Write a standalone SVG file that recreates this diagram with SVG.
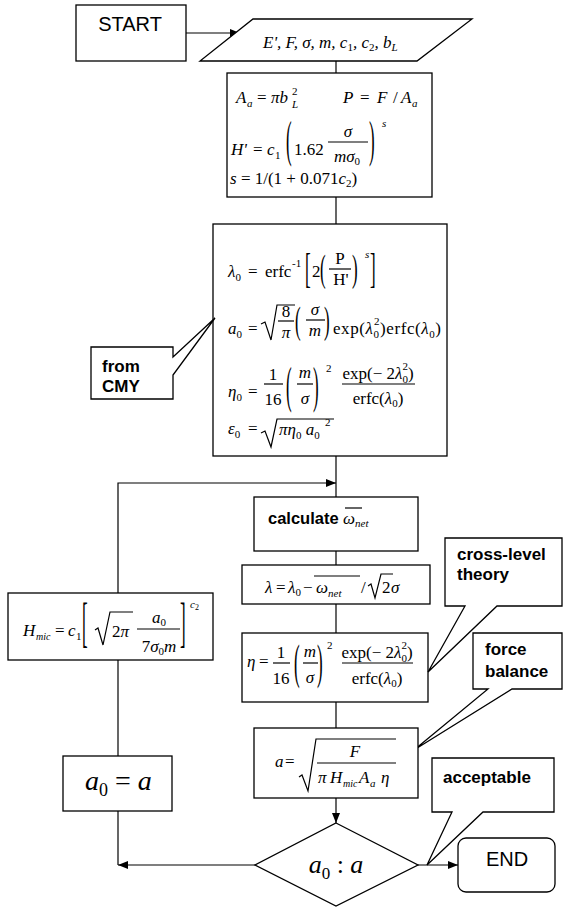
<svg xmlns="http://www.w3.org/2000/svg" width="564" height="907" viewBox="0 0 564 907">
<style>
.b{fill:#fff;stroke:#000;stroke-width:1.3}
.ln{stroke:#000;stroke-width:1.2;fill:none}
.c path,.c line{stroke:#000;stroke-width:1.2;fill:none}
.m{font-family:"Liberation Serif","Times New Roman",serif;font-style:italic;font-size:17px}
.r{font-family:"Liberation Serif","Times New Roman",serif;font-style:normal;font-size:17px}
.s{font-size:11px}
.lbl{font-family:"Liberation Sans",Arial,sans-serif;font-weight:bold;font-size:17px}
.big{font-family:"Liberation Sans",Arial,sans-serif;font-size:20px}
</style>
<defs>
<marker id="ah" markerWidth="10" markerHeight="8" refX="10" refY="4" orient="auto" markerUnits="userSpaceOnUse">
<path d="M0,0 L10,4 L0,8 Z" fill="#000"/>
</marker>
</defs>

<g class="c" id="connectors">
<line x1="186" y1="33" x2="240" y2="33" marker-end="url(#ah)"/>
<line x1="336" y1="61" x2="336" y2="73"/>
<line x1="336" y1="197" x2="336" y2="224"/>
<line x1="336" y1="456" x2="336" y2="497"/>
<line x1="336" y1="551" x2="336" y2="565"/>
<line x1="336" y1="604" x2="336" y2="633"/>
<line x1="336" y1="702" x2="336" y2="728"/>
<line x1="336" y1="798" x2="336" y2="823" marker-end="url(#ah)"/>
<line x1="418" y1="865" x2="458" y2="865" marker-end="url(#ah)"/>
<line x1="255" y1="865" x2="118" y2="865" marker-end="url(#ah)"/>
<line x1="118" y1="865" x2="118" y2="811"/>
<line x1="118" y1="756" x2="118" y2="660"/>
<path d="M118,593 V483 H336" marker-end="url(#ah)"/>
</g>

<g id="start">
<rect class="b" x="76" y="5" width="110" height="56"/>
<text class="big" x="130" y="31" text-anchor="middle">START</text>
</g>

<g id="input">
<polygon class="b" points="253,19 472,19 417,61 200,61"/>
<text class="m" x="263" y="48">E', F, σ, m, c<tspan class="r s" dy="3">1</tspan><tspan dy="-3">, c</tspan><tspan class="r s" dy="3">2</tspan><tspan dy="-3">, b</tspan><tspan class="s" dy="3">L</tspan></text>
</g>

<g id="box1">
<rect class="b" x="227" y="73" width="205" height="124"/>
<text class="m" x="236" y="103">A</text>
<text class="m s" x="247" y="107">a</text>
<text class="r" x="257" y="103">=</text>
<text class="m" x="271" y="103">πb</text>
<text class="r s" x="292" y="95">2</text>
<text class="m s" x="292" y="108">L</text>
<text class="m" x="343" y="103">P</text>
<text class="r" x="360" y="103">=</text>
<text class="m" x="377" y="103">F</text>
<text class="r" x="393" y="103">/</text>
<text class="m" x="401" y="103">A</text>
<text class="m s" x="412" y="107">a</text>
<text class="m" x="231" y="155">H'</text>
<text class="r" x="253" y="155">=</text>
<text class="m" x="267" y="155">c</text>
<text class="r s" x="275" y="159">1</text>
<text class="r" transform="translate(286,156) scale(1,2.94)">(</text>
<text class="r" x="294" y="155">1.62</text>
<line class="ln" x1="328" y1="142" x2="368" y2="142"/>
<text class="m" x="348" y="137" text-anchor="middle">σ</text>
<text class="m" x="347" y="162" text-anchor="middle">mσ<tspan class="r s" dy="3">0</tspan></text>
<text class="r" transform="translate(369,156) scale(1,2.94)">)</text>
<text class="m s" x="382" y="127">s</text>
<text class="m" x="230" y="184">s <tspan class="r">= 1/(1 + 0.071</tspan>c<tspan class="r s" dy="3">2</tspan><tspan class="r" dy="-3">)</tspan></text>
</g>

<g id="box2">
<rect class="b" x="213" y="224" width="234" height="232"/>
<text class="m" x="228" y="277">λ<tspan class="r s" dy="4">0</tspan></text>
<text class="r" x="248" y="277">=</text>
<text class="r" x="265" y="277">erfc</text>
<text class="r s" x="292" y="267">-1</text>
<text class="r" transform="translate(305,282) scale(1,2.48)">[</text>
<text class="r" x="312" y="277">2</text>
<text class="r" transform="translate(320,281) scale(1,2.22)">(</text>
<text class="r" x="340" y="264" text-anchor="middle">P</text>
<line class="ln" x1="329" y1="269" x2="351" y2="269"/>
<text class="r" x="341" y="285" text-anchor="middle">H'</text>
<text class="r" transform="translate(352,281) scale(1,2.22)">)</text>
<text class="m s" x="365" y="258">s</text>
<text class="r" transform="translate(370,282) scale(1,2.48)">]</text>

<text class="m" x="228" y="334">a<tspan class="r s" dy="4">0</tspan></text>
<text class="r" x="248" y="334">=</text>
<path class="ln" d="M261,324 L265,322 L271,340 L277,305 H295"/>
<text class="r" x="286" y="317" text-anchor="middle">8</text>
<line class="ln" x1="278" y1="321" x2="294" y2="321"/>
<text class="m" x="286" y="338" text-anchor="middle">π</text>
<text class="r" transform="translate(295,333) scale(1,2.29)">(</text>
<text class="m" x="315" y="315" text-anchor="middle">σ</text>
<line class="ln" x1="306" y1="320" x2="325" y2="320"/>
<text class="m" x="315" y="336" text-anchor="middle">m</text>
<text class="r" transform="translate(324,333) scale(1,2.29)">)</text>
<text class="r" x="333" y="334" textLength="108" lengthAdjust="spacing">exp(<tspan class="m">λ</tspan><tspan class="s" dy="4">0</tspan><tspan class="s" dx="-5.5" dy="-13">2</tspan><tspan dy="9">)erfc(</tspan><tspan class="m">λ</tspan><tspan class="s" dy="4">0</tspan><tspan dy="-4">)</tspan></text>

<text class="m" x="228" y="397">η<tspan class="r s" dy="4">0</tspan></text>
<text class="r" x="248" y="397">=</text>
<text class="r" x="273" y="380" text-anchor="middle">1</text>
<line class="ln" x1="264" y1="384" x2="283" y2="384"/>
<text class="r" x="273" y="405" text-anchor="middle">16</text>
<text class="r" transform="translate(286,402) scale(1,3.0)">(</text>
<text class="m" x="305" y="378" text-anchor="middle">m</text>
<line class="ln" x1="297" y1="384" x2="313" y2="384"/>
<text class="m" x="305" y="404" text-anchor="middle">σ</text>
<text class="r" transform="translate(313,402) scale(1,3.0)">)</text>
<text class="r s" x="326" y="372">2</text>
<text class="r" x="378" y="379" text-anchor="middle">exp(− 2<tspan class="m">λ</tspan><tspan class="s" dy="4">0</tspan><tspan class="s" dx="-5.5" dy="-13">2</tspan><tspan dy="9">)</tspan></text>
<line class="ln" x1="342" y1="384" x2="415" y2="384"/>
<text class="r" x="378" y="404" text-anchor="middle">erfc(<tspan class="m">λ</tspan><tspan class="s" dy="3">0</tspan><tspan dy="-3">)</tspan></text>

<text class="m" x="228" y="434">ε<tspan class="r s" dy="4">0</tspan></text>
<text class="r" x="248" y="434">=</text>
<path class="ln" d="M261,433 L265,431 L271,447 L277,419 H334"/>
<text class="m" x="279" y="435">πη<tspan class="r s" dy="4">0</tspan><tspan dy="-4"> a</tspan><tspan class="r s" dy="4">0</tspan></text>
<text class="r s" x="325" y="426">2</text>
</g>

<g id="cmy">
<path class="b" d="M91,347 H173 V357 L215,318 L173,375 V399 H91 Z"/>
<text class="lbl" x="102" y="372">from</text>
<text class="lbl" x="102" y="392">CMY</text>
</g>

<g id="calc">
<rect class="b" x="254" y="497" width="164" height="54"/>
<text class="lbl" x="268" y="524" style="font-size:16.5px">calculate</text>
<line class="ln" x1="345" y1="508" x2="362" y2="508"/>
<text class="m" x="343" y="524">ω</text>
<text class="m s" x="355" y="527">net</text>
</g>

<g id="lambda">
<rect class="b" x="242" y="565" width="188" height="39"/>
<text class="m" x="265" y="593">λ</text>
<text class="r" x="276" y="593">=</text>
<text class="m" x="288" y="593">λ<tspan class="r s" dy="3">0</tspan></text>
<text class="r" x="303" y="593">−</text>
<line class="ln" x1="314" y1="576" x2="360" y2="576"/>
<text class="m" x="316" y="593">ω</text>
<text class="m s" x="328" y="597">net</text>
<text class="r" x="361" y="593">/</text>
<path class="ln" d="M368,586 L371,584 L375,598 L381,574 H393"/>
<text class="r" x="382" y="593">2</text>
<text class="m" x="391" y="593">σ</text>
</g>

<g id="eta">
<rect class="b" x="242" y="633" width="186" height="69"/>
<text class="m" x="247" y="667">η</text>
<text class="r" x="259" y="667">=</text>
<text class="r" x="281" y="658" text-anchor="middle">1</text>
<line class="ln" x1="273" y1="663" x2="290" y2="663"/>
<text class="r" x="281" y="684" text-anchor="middle">16</text>
<text class="r" transform="translate(294,678) scale(1,2.81)">(</text>
<text class="m" x="310" y="657" text-anchor="middle">m</text>
<line class="ln" x1="303" y1="663" x2="318" y2="663"/>
<text class="m" x="310" y="683" text-anchor="middle">σ</text>
<text class="r" transform="translate(317,678) scale(1,2.81)">)</text>
<text class="r s" x="327" y="649">2</text>
<text class="r" x="377" y="658" text-anchor="middle">exp(− 2<tspan class="m">λ</tspan><tspan class="s" dy="4">0</tspan><tspan class="s" dx="-5.5" dy="-13">2</tspan><tspan dy="9">)</tspan></text>
<line class="ln" x1="342" y1="663" x2="413" y2="663"/>
<text class="r" x="377" y="684" text-anchor="middle">erfc(<tspan class="m">λ</tspan><tspan class="s" dy="3">0</tspan><tspan dy="-3">)</tspan></text>
</g>

<g id="crosslevel">
<path class="b" d="M445,538 H562 V606 H497 L428,672 L465,606 H445 Z"/>
<text class="lbl" x="457" y="560">cross-level</text>
<text class="lbl" x="457" y="580">theory</text>
</g>

<g id="forcebal">
<path class="b" d="M473,633 H562 V689 H512 L414,750 L488,689 H473 Z"/>
<text class="lbl" x="485" y="655">force</text>
<text class="lbl" x="485" y="677">balance</text>
</g>

<g id="abox">
<rect class="b" x="254" y="728" width="164" height="70"/>
<text class="m" x="275" y="767">a</text>
<text class="r" x="285" y="767">=</text>
<path class="ln" d="M299,777 L302,775 L308,791 L316,739 H396"/>
<text class="m" x="355" y="757" text-anchor="middle">F</text>
<line class="ln" x1="317" y1="763" x2="396" y2="763"/>
<text class="m" x="318" y="783">π</text>
<text class="m" x="330" y="783">H</text>
<text class="m" x="343" y="787" style="font-size:10px">mic</text>
<text class="m" x="359" y="783">A</text>
<text class="m s" x="370" y="787">a</text>
<text class="m" x="381" y="783">η</text>
</g>

<g id="hmic">
<rect class="b" x="8" y="593" width="205" height="67"/>
<text class="m" x="23" y="636">H</text>
<text class="m" x="36" y="640" style="font-size:10px">mic</text>
<text class="r" x="55" y="636">=</text>
<text class="m" x="68" y="636">c</text>
<text class="r s" x="76" y="640">1</text>
<text class="r" transform="translate(82,641) scale(1,3.27)">[</text>
<path class="ln" d="M95,630 L98,628 L103,645 L110,612 H133"/>
<text class="r" x="112" y="637">2<tspan class="m">π</tspan></text>
<text class="m" x="159" y="623" text-anchor="middle">a<tspan class="r s" dy="3">0</tspan></text>
<line class="ln" x1="137" y1="629" x2="180" y2="629"/>
<text class="r" x="159" y="652" text-anchor="middle">7<tspan class="m">σ</tspan><tspan class="s" dy="3">0</tspan><tspan class="m" dy="-3">m</tspan></text>
<text class="r" transform="translate(180,641) scale(1,3.27)">]</text>
<text class="m s" x="190" y="608">c<tspan class="r" style="font-size:8px" dy="2">2</tspan></text>
</g>

<g id="a0box">
<rect class="b" x="63" y="756" width="109" height="55"/>
<text class="m" x="85" y="790" style="font-size:28px">a<tspan class="r" style="font-size:18px" dy="6">0</tspan><tspan class="r" style="font-size:28px" dy="-6"> = </tspan>a</text>
</g>

<g id="decision">
<polygon class="b" points="336,823 418,865 336,906 255,865"/>
<text class="m" x="336" y="873" text-anchor="middle" style="font-size:26px">a<tspan class="r" style="font-size:17px" dy="6">0</tspan><tspan class="r" style="font-size:26px" dy="-6"> : </tspan>a</text>
</g>

<g id="acceptable">
<path class="b" d="M432,758 H554 V812 H483 L427,865 L452,812 H432 Z"/>
<text class="lbl" x="443" y="783">acceptable</text>
</g>

<g id="end">
<rect class="b" x="458" y="838" width="97" height="54" rx="8"/>
<text class="big" x="507" y="866" text-anchor="middle">END</text>
</g>
</svg>
